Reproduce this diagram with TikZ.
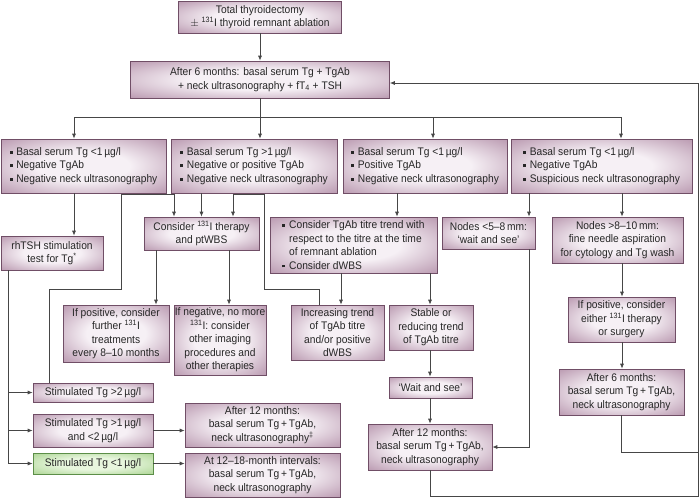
\documentclass[tikz,border=0pt]{standalone}
\usepackage{fontspec}
\setmainfont{Liberation Sans}[FakeStretch=0.93]
\usetikzlibrary{arrows.meta}
\definecolor{thmauve}{RGB}{146,96,131}
\definecolor{thlight}{RGB}{246,240,245}
\definecolor{thedge}{RGB}{112,78,102}
\definecolor{thgreen}{RGB}{134,192,100}
\definecolor{thpale}{RGB}{232,246,222}
\definecolor{thgedge}{RGB}{92,142,72}
\definecolor{thline}{RGB}{70,70,70}
\pgfdeclareradialshading{mauveglow}{\pgfpoint{0bp}{0bp}}{color(0bp)=(thlight); color(14bp)=(thlight); color(50bp)=(thmauve); color(75bp)=(thmauve)}
\pgfdeclareradialshading{greenglow}{\pgfpoint{0bp}{0bp}}{color(0bp)=(thpale); color(14bp)=(thpale); color(50bp)=(thgreen); color(75bp)=(thgreen)}
\newcommand{\sqbul}{\rule[0.3ex]{0.5ex}{0.5ex}\hspace{0.35em}}
\tikzset{
  tbox/.style={draw=thedge, line width=0.6pt, shading=mauveglow, align=center,
               inner sep=0.5pt, text=black!85, font=\fontsize{11}{13.5}\selectfont},
  gbox/.style={tbox, draw=thgedge, shading=greenglow},
  wh/.style 2 args={minimum width=#1pt, minimum height=#2pt},
  link/.style={draw=thline, line width=0.75pt},
  flow/.style={link, -{Latex[length=5pt,width=4pt]}},
}

\begin{document}
\begin{tikzpicture}[x=1pt, y=-1pt]
  \useasboundingbox (0,0) rectangle (700,499);

  % boxes
  \node[tbox, wh={163}{32}] (top) at (260,17)
    {Total thyroidectomy\\ $\pm$ \textsuperscript{131}I thyroid remnant ablation};
  \node[tbox, wh={259}{37}] (after6) at (260,79.5)
    {After 6 months: basal serum Tg + TgAb\\ + neck ultrasonography + fT\textsubscript{4} + TSH};

  \node[tbox, wh={165}{54}, align=left] (b1) at (83.5,166)
    {\sqbul Basal serum Tg <1\,µg/l\\ \sqbul Negative TgAb\\ \sqbul Negative neck ultrasonography};
  \node[tbox, wh={166}{54}, align=left] (b2) at (254,166)
    {\sqbul Basal serum Tg >1\,µg/l\\ \sqbul Negative or positive TgAb\\ \sqbul Negative neck ultrasonography};
  \node[tbox, wh={164}{54}, align=left] (b3) at (425,166)
    {\sqbul Basal serum Tg <1\,µg/l\\ \sqbul Positive TgAb\\ \sqbul Negative neck ultrasonography};
  \node[tbox, wh={181}{54}, align=left] (b4) at (601.5,166)
    {\sqbul Basal serum Tg <1\,µg/l\\ \sqbul Negative TgAb\\ \sqbul Suspicious neck ultrasonography};

  \node[tbox, wh={102}{34}] (rhtsh) at (52,253) {rhTSH stimulation\\ test for Tg\textsuperscript{*}};
  \node[tbox, wh={115}{33}] (consider) at (201.5,233.5) {Consider \textsuperscript{131}I therapy\\ and ptWBS};
  \node[tbox, wh={167}{56}, align=left] (titre) at (353.5,245)
    {\sqbul Consider TgAb titre trend with\\ \hphantom{\sqbul}respect to the titre at the time\\
     \hphantom{\sqbul}of remnant ablation\\ \sqbul Consider dWBS};
  \node[tbox, wh={93}{32}] (nodes58) at (488.5,233) {Nodes <5–8\,mm:\\ ‘wait and see’};
  \node[tbox, wh={131}{46}] (fna) at (617.5,240)
    {Nodes >8–10\,mm:\\ fine needle aspiration\\ for cytology and Tg wash};

  \node[tbox, wh={106}{57}] (ifpos) at (116,333.5)
    {If positive, consider\\ further \textsuperscript{131}I\\ treatments\\ every 8–10 months};
  \node[tbox, wh={92}{70}] (ifneg) at (220,340)
    {If negative, no more\\ \textsuperscript{131}I: consider\\ other imaging\\ procedures and\\ other therapies};
  \node[tbox, wh={93}{55}] (incr) at (337.5,332.5)
    {Increasing trend\\ of TgAb titre\\ and/or positive\\ dWBS};
  \node[tbox, wh={84}{45}] (stable) at (431,327.5) {Stable or\\ reducing trend\\ of TgAb titre};
  \node[tbox, wh={107}{45}] (either) at (621.5,319.5)
    {If positive, consider\\ either \textsuperscript{131}I therapy\\ or surgery};

  \node[tbox, wh={83}{21}] (waitsee) at (430.5,387.5) {‘Wait and see’};
  \node[tbox, wh={124}{46}] (after12b) at (430,447)
    {After 12 months:\\ basal serum Tg\,+\,TgAb,\\ neck ultrasonography};
  \node[tbox, wh={125}{46}] (after6b) at (621.5,392)
    {After 6 months:\\ basal serum Tg\,+\,TgAb,\\ neck ultrasonography};

  \node[tbox, wh={120}{19}] (stim2) at (93,392.5) {Stimulated Tg >2\,µg/l};
  \node[tbox, wh={120}{33}] (stim12) at (93,430.5) {Stimulated Tg >1\,µg/l\\ and <2\,µg/l};
  \node[gbox, wh={120}{21}] (stim1) at (93,463.5) {Stimulated Tg <1\,µg/l};
  \node[tbox, wh={155}{44}] (after12a) at (262.5,425)
    {After 12 months:\\ basal serum Tg\,+\,TgAb,\\ neck ultrasonography\textsuperscript{‡}};
  \node[tbox, wh={155}{44}] (interval) at (262.5,475)
    {At 12–18-month intervals:\\ basal serum Tg\,+\,TgAb,\\ neck ultrasonography};

  % lanes and bends
  \coordinate (s1) at (74,117);  \coordinate (s2) at (260,117);
  \coordinate (s3) at (433,117); \coordinate (s4) at (621,117);
  \coordinate (k3) at (397,0);   \coordinate (k4) at (529,0);  \coordinate (k5) at (622,0);
  \coordinate (c1) at (156,0);   \coordinate (c2) at (229,0);
  \coordinate (t1) at (341,0);   \coordinate (t2) at (430,0);  \coordinate (ll) at (8,0);
  \coordinate (la) at (49,289);  \coordinate (lb) at (121,194); \coordinate (lc) at (174,194);
  \coordinate (ra) at (319,289); \coordinate (rb) at (264,194); \coordinate (rc) at (233,194);
  \coordinate (rt) at (698,496); \coordinate (rj) at (698,452);

  % connectors
  \draw[flow] (top) -- (after6);
  \draw[link] (after6.south) -- (s2);
  \draw[link] (s1) -- (s4);
  \foreach \s/\b in {s1/b1, s2/b2, s3/b3, s4/b4}
    \draw[flow] (\s) -- (\s |- \b.north);

  \draw[flow] (b1.south -| s1) -- (rhtsh.north -| s1);
  \draw[flow] (b2.south -| consider) -- (consider.north);
  \draw[flow] (b3.south -| k3) -- (titre.north -| k3);
  \draw[flow] (b4.south -| k4) -- (nodes58.north -| k4);
  \draw[flow] (b4.south -| k5) -- (fna.north -| k5);
  \draw[flow] (fna.south -| k5) -- (either.north -| k5);
  \draw[flow] (either.south -| k5) -- (after6b.north -| k5);

  \draw[flow] (consider.south -| c1) -- (ifpos.north -| c1);
  \draw[flow] (consider.south -| c2) -- (ifneg.north -| c2);
  \draw[flow] (titre.south -| t1) -- (incr.north -| t1);
  \draw[flow] (titre.south -| t2) -- (stable.north -| t2);
  \draw[flow] (stable.south -| t2) -- (waitsee.north -| t2);
  \draw[flow] (waitsee.south -| t2) -- (after12b.north -| t2);
  \draw[flow] (nodes58.south -| k4) |- (after12b.east);

  \draw[flow] (after12b.south) |- (rt) |- ([yshift=-3.5pt]after6.east);
  \draw[link] (after6b.south) |- (rj);

  \draw[flow] (stim2.north -| la) -- (la) -| (lb) -- (lc) -- (consider.north -| lc);
  \draw[flow] (incr.north -| ra) -- (ra) -| (rb) -- (rc) -- (consider.north -| rc);

  \draw[link] (rhtsh.south -| ll) -- (stim1.west -| ll);
  \foreach \n in {stim2, stim12, stim1}
    \draw[flow] (\n.west -| ll) -- (\n.west);
  \draw[flow] (stim12.east) -- (stim12.east -| after12a.west);
  \draw[flow] (stim1.east) -- (stim1.east -| interval.west);
\end{tikzpicture}
\end{document}
